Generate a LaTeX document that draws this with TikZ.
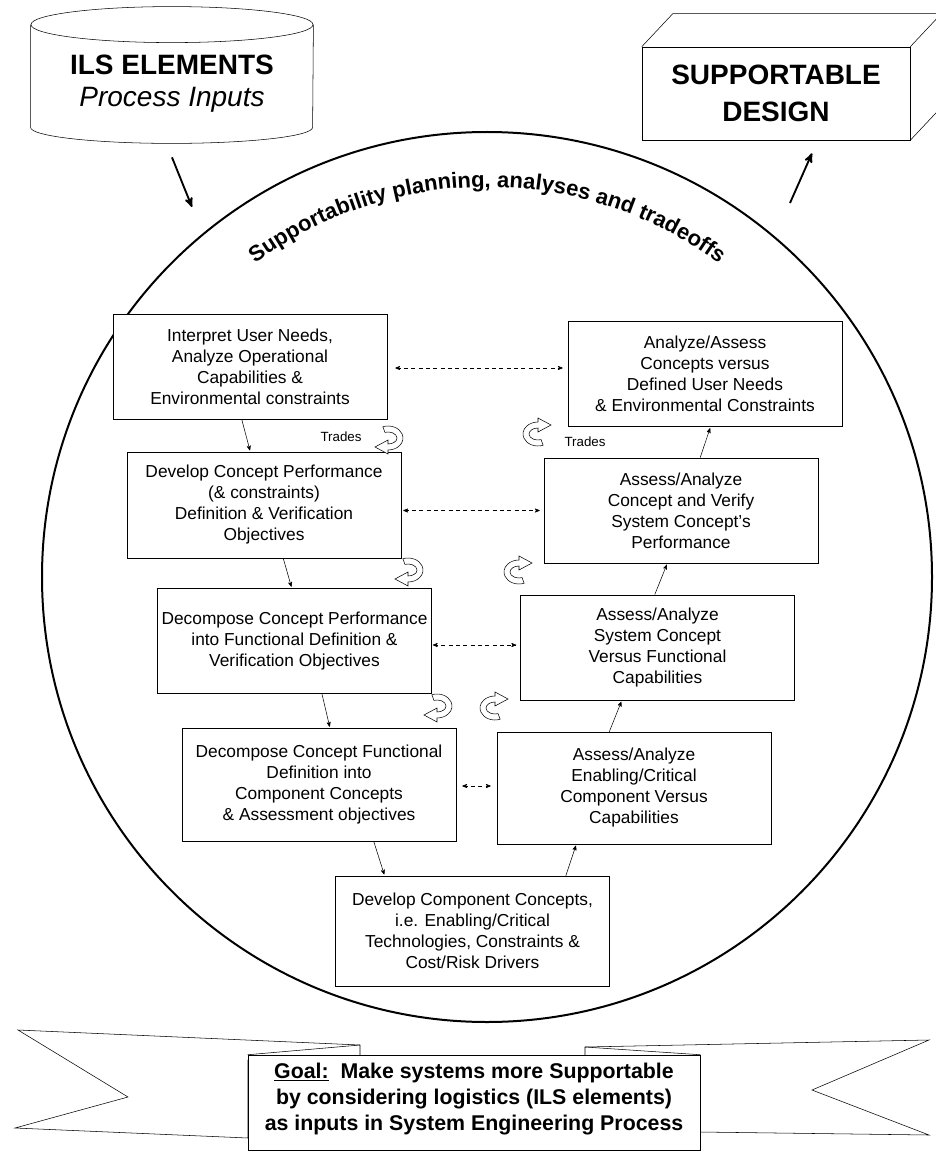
\documentclass[tikz,border=0pt]{standalone}
\usepackage{fontspec}
\setmainfont{Liberation Sans}
\usetikzlibrary{arrows,calc,decorations.text}

\tikzset{
  tradearrow/.pic={
    \filldraw[draw=black, fill=white, thin] (-110:15 and 12) arc[start angle=-110, end angle=90, x radius=15, y radius=12]
      -- (0,16) -- (-13,9) -- (0,2) -- (0,6) arc[start angle=90, end angle=-110, x radius=9, y radius=6] -- cycle;
  }
}

\begin{document}
\begin{tikzpicture}[>=stealth', semithick, x=0.75pt, y=-0.75pt]

    \tikzstyle{box}=[draw=black, thin, fill=white, align=center, minimum width=205.5pt, minimum height=79pt, inner sep=2pt, font=\fontsize{13}{15.75}\selectfont]
    \tikzstyle{flow}=[->, thin, shorten >=1pt]
    \tikzstyle{link}=[<->, thin, dash pattern=on 3pt off 2.5pt]
    \tikzstyle{bigarrow}=[->, line width=1.4pt]

    \useasboundingbox (0,0) rectangle (935,1155);

    % the loop
    \node[circle, draw, line width=1.5pt, minimum size=667.5pt] (ring) at (487,577) {};
    \path[decorate, decoration={text along path, text align=center,
        text={|\bfseries\fontsize{16.5}{18}\selectfont|Supportability planning, analyses and tradeoffs}}]
        ($(ring.center)+(-131:390)$) arc[start angle=-131, end angle=-49, radius=390];

    % inputs and output
    \node[minimum width=211.5pt, minimum height=76.5pt] (ils) at (172,76) {};
    \draw[thin] (ils.north west) -- (ils.south west) arc[start angle=180, end angle=0, x radius=141, y radius=16] -- (ils.north east);
    \draw[thin] (ils.north) ellipse [x radius=141, y radius=18];
    \node[align=center, font=\fontsize{21}{24}\selectfont] (ilstext) at ($(ils.center)+(0,8)$) {{\bfseries ILS ELEMENTS}\\ {\itshape Process Inputs}};

    \node[draw, thin, minimum width=201pt, minimum height=69.75pt, align=center, font=\fontsize{21}{27.75}\selectfont\bfseries] (sd) at (776,93.5) {SUPPORTABLE\\ DESIGN};
    \draw[thin] (sd.north west) -- ++(31,-33) -- ($(sd.north east)+(31,-33)$) -- (sd.north east);
    \draw[thin] ($(sd.north east)+(31,-33)$) -- ($(sd.south east)+(31,-33)$) -- (sd.south east);

    \coordinate (inpt) at (192,207);
    \coordinate (outpt) at (790,203);
    \draw[bigarrow] ($(ils.south)+(0,30)$) -- (inpt);
    \draw[bigarrow] (outpt) -- ($(sd.south)+(36,13)$);

    % left column, going down
    \node[box] (L1) at (250,366.5) {Interpret User Needs,\\ Analyze Operational\\ Capabilities \&\\ Environmental constraints};
    \node[box, minimum height=79.5pt] (L2) at (264,505) {Develop Concept Performance\\ (\& constraints)\\ Definition \& Verification\\ Objectives};
    \node[box] (L3) at (294.5,641) {Decompose Concept Performance\\ into Functional Definition \&\\ Verification Objectives};
    \node[box, minimum height=85pt] (L4) at (319,785) {Decompose Concept Functional\\ Definition into\\ Component Concepts\\ \& Assessment objectives};

    \node[box, minimum height=82.5pt] (B) at (472.5,931) {Develop Component Concepts,\\ i.e. Enabling/Critical\\ Technologies, Constraints \&\\ Cost/Risk Drivers};

    % right column, going up
    \node[box, minimum height=84pt] (R4) at (634,788) {Assess/Analyze\\ Enabling/Critical\\ Component Versus\\ Capabilities};
    \node[box] (R3) at (657.5,647.5) {Assess/Analyze\\ System Concept\\ Versus Functional\\ Capabilities};
    \node[box] (R2) at (681,510.5) {Assess/Analyze\\ Concept and Verify\\ System Concept's\\ Performance};
    \node[box] (R1) at (705,374) {Analyze/Assess\\ Concepts versus\\ Defined User Needs\\ \& Environmental Constraints};

    \draw[flow] ($(L1.south west)!0.47!(L1.south east)$) -- ($(L2.north west)!0.45!(L2.north east)$);
    \draw[flow] ($(L2.south west)!0.57!(L2.south east)$) -- ($(L3.north west)!0.49!(L3.north east)$);
    \draw[flow] ($(L3.south west)!0.60!(L3.south east)$) -- ($(L4.north west)!0.54!(L4.north east)$);
    \draw[flow] ($(L4.south west)!0.70!(L4.south east)$) -- ($(B.north west)!0.18!(B.north east)$);
    \draw[flow] ($(B.north west)!0.84!(B.north east)$) -- ($(R4.south west)!0.29!(R4.south east)$);
    \draw[flow] ($(R4.north west)!0.41!(R4.north east)$) -- ($(R3.south west)!0.37!(R3.south east)$);
    \draw[flow] ($(R3.north west)!0.49!(R3.north east)$) -- ($(R2.south west)!0.45!(R2.south east)$);
    \draw[flow] ($(R2.north west)!0.57!(R2.north east)$) -- ($(R1.south west)!0.52!(R1.south east)$);

    \draw[link] ($(L1.east)+(8,1.5)$) -- ($(L1.east -| R1.west)+(-5,1.5)$);
    \draw[link] ($(R2.west -| L2.east)+(2,0)$) -- ($(R2.west)+(-4,0)$);
    \draw[link] ($(L3.east)+(1,4)$) -- ($(R3.west)+(-4,-2.5)$);
    \draw[link] ($(L4.east)+(6,1)$) -- ($(R4.west)+(-6,-2)$);

    % trades
    \pic at (388,438) {tradearrow};
    \pic at (408,570) {tradearrow};
    \pic at (437,706) {tradearrow};
    \pic[rotate=180] at (538,434) {tradearrow};
    \pic[rotate=180] at (519,572) {tradearrow};
    \pic[rotate=180] at (495,708) {tradearrow};
    \node[font=\fontsize{10}{12}\selectfont] (tr1) at (341,437) {Trades};
    \node[font=\fontsize{10}{12}\selectfont] (tr2) at (585,442) {Trades};

    % goal ribbon
    \filldraw[thin, fill=white] (18,1030) -- (360,1045) -- (360,1056) -- (248,1060) -- (248,1138) -- (15,1128) -- (128,1097) -- cycle;
    \filldraw[thin, fill=white] (929,1040) -- (585,1047) -- (585,1058) -- (700,1062) -- (700,1132) -- (929,1135) -- (812,1090) -- cycle;
    \node[draw, thin, fill=white, minimum width=339pt, minimum height=71.25pt] (goal) at (474,1102.5) {};
    \draw[thin] (goal.north west) -- (360,1045);
    \draw[thin] (goal.north east) -- (585,1047);
    \node[align=center, font=\fontsize{16}{19.5}\selectfont\bfseries] (goaltext) at ($(goal.center)+(0,-3.5)$)
        {\underline{Goal:}\ \ Make systems more Supportable\\ by considering logistics (ILS elements)\\ as inputs in System Engineering Process};

\end{tikzpicture}
\end{document}
